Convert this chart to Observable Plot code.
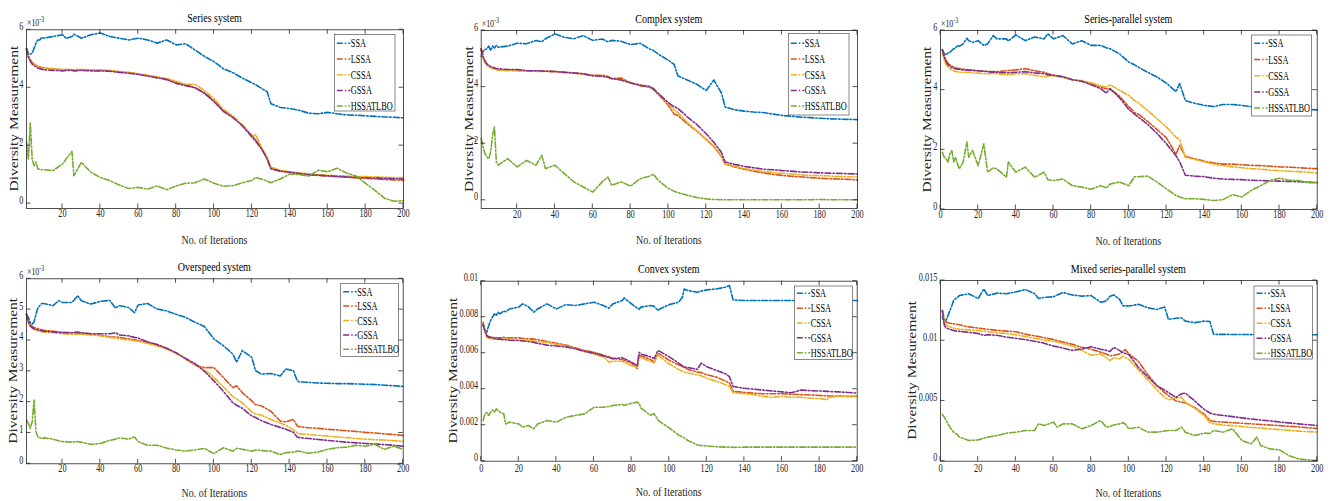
<!DOCTYPE html>
<html><head><meta charset="utf-8">
<script src="https://cdn.jsdelivr.net/npm/d3@7"></script>
<script src="https://cdn.jsdelivr.net/npm/@observablehq/plot@0.6"></script>
<style>
html,body{margin:0;padding:0;background:#fff;}
#root{position:relative;width:1333px;height:501px;overflow:hidden;}
.cell{position:absolute;}
</style></head><body><div id="root"></div>
<script>
// ---------- categories / labels ----------
const seriesNames = ["SSA","LSSA","CSSA","GSSA","HSSATLBO"];
const seriesColors = ["#0072BD","#D95319","#EDB120","#7E2F8E","#77AC30"];
const titles = ["Series system","Complex system","Series-parallel system","Overspeed system","Convex system","Mixed series-parallel system"];
const yLabels = ["Diversity Measurement","Diversity Measurement","Diversity Measurement","Diversity Measurement","Diversity Measurement","Diversity Mesurement"];
const xLabel = "No. of Iterations";
const xTicksFrom20 = [20,40,60,80,100,120,140,160,180,200];
const xTicksFrom0 = [0,20,40,60,80,100,120,140,160,180,200];
const yTicks1 = [0,2,4,6];
const yTicks4 = [0,1,2,3,4,5,6];
const yTicks5 = [0,2,4,6,8,10];
const yTicks6 = [0,5,10,15];

// ---------- values (all in units of 10^-3) ----------
// Panel 1: Series system
const p1Iter = [1,2,3,4,5,6,7,8,9,10,15,20,22,25,26,30,35,40,45,50,55,60,65,70,75,80,85,90,95,100,105,110,115,120,122,125,128,130,135,140,145,150,155,160,165,170,175,180,185,190,195,200];
const p1SSA = [5.36,5.16,5.16,5.19,5.36,5.54,5.65,5.65,5.74,5.71,5.77,5.83,5.7,5.77,5.85,5.71,5.83,5.89,5.77,5.71,5.65,5.71,5.65,5.54,5.65,5.48,5.52,5.3,5.08,4.9,4.65,4.52,4.33,4.17,4.1,3.98,3.86,3.45,3.32,3.28,3.22,3.12,3.1,3.15,3.1,3.06,3.05,3.03,3.01,2.99,2.98,2.96];
const p1LSSA = [5.35,5.1,4.97,4.88,4.82,4.78,4.75,4.72,4.7,4.68,4.66,4.62,4.63,4.62,4.61,4.62,4.6,4.6,4.58,4.55,4.52,4.47,4.42,4.36,4.3,4.18,4.1,4.0,3.82,3.55,3.2,2.98,2.7,2.35,2.2,1.9,1.55,1.22,1.12,1.08,1.03,0.99,0.97,0.95,0.93,0.91,0.89,0.87,0.85,0.83,0.82,0.8];
const p1CSSA = [5.3,5.05,4.93,4.85,4.8,4.76,4.73,4.7,4.68,4.67,4.65,4.63,4.62,4.63,4.62,4.64,4.62,4.62,4.6,4.56,4.53,4.48,4.43,4.38,4.32,4.22,4.12,4.12,3.9,3.62,3.25,3.02,2.72,2.3,2.38,1.95,1.6,1.26,1.15,1.1,1.06,1.03,1.0,0.98,0.96,0.95,0.94,0.93,0.92,0.91,0.9,0.9];
const p1GSSA = [5.35,5.05,4.92,4.82,4.76,4.72,4.68,4.66,4.64,4.62,4.6,4.58,4.6,4.6,4.58,4.6,4.58,4.58,4.57,4.53,4.5,4.46,4.4,4.34,4.28,4.15,4.07,4.0,3.8,3.52,3.18,2.97,2.68,2.3,2.15,1.9,1.55,1.2,1.12,1.08,1.04,1.0,0.98,0.96,0.94,0.92,0.9,0.89,0.88,0.87,0.86,0.85];
const p1HSS = [2.12,1.54,2.8,1.54,1.31,1.43,1.19,1.19,1.17,1.17,1.14,1.37,1.55,1.8,0.96,1.42,1.08,0.9,0.79,0.64,0.52,0.56,0.5,0.61,0.48,0.61,0.7,0.72,0.85,0.7,0.6,0.62,0.72,0.8,0.9,0.85,0.78,0.72,0.85,1.02,1.0,0.95,1.15,1.1,1.22,1.05,0.95,0.7,0.45,0.18,0.08,0.1];

// Panel 2: Complex system
const p2Iter = [1,2,3,4,5,6,7,8,9,10,15,20,25,30,33,35,40,45,50,55,60,65,68,70,75,80,85,90,92,95,100,103,105,110,115,120,124,128,130,135,140,145,150,155,160,165,170,175,180,185,190,195,200];
const p2SSA = [5.09,5.26,5.33,5.35,5.45,5.29,5.45,5.38,5.47,5.41,5.45,5.55,5.53,5.65,5.6,5.71,5.88,5.76,5.71,5.82,5.65,5.7,5.6,5.65,5.62,5.5,5.55,5.35,5.3,5.15,4.95,4.8,4.4,4.25,4.1,3.88,4.25,3.8,3.3,3.2,3.15,3.12,3.1,3.05,3.0,2.97,2.94,2.92,2.9,2.88,2.87,2.86,2.85];
const p2LSSA = [5.35,5.05,4.9,4.8,4.75,4.7,4.67,4.65,4.63,4.6,4.6,4.6,4.58,4.57,4.56,4.56,4.55,4.53,4.5,4.47,4.42,4.42,4.38,4.3,4.32,4.15,4.05,4.0,3.92,3.72,3.35,3.05,3.0,2.7,2.45,2.15,1.9,1.55,1.28,1.18,1.1,1.03,0.97,0.92,0.88,0.85,0.83,0.8,0.78,0.76,0.75,0.74,0.72];
const p2CSSA = [5.3,5.0,4.85,4.77,4.72,4.68,4.65,4.63,4.62,4.6,4.58,4.57,4.56,4.56,4.55,4.55,4.55,4.52,4.49,4.45,4.4,4.38,4.35,4.3,4.25,4.15,4.07,4.02,3.95,3.75,3.4,3.2,3.1,2.75,2.45,2.15,1.92,1.58,1.28,1.2,1.12,1.07,1.02,0.98,0.95,0.93,0.9,0.88,0.87,0.86,0.84,0.83,0.82];
const p2GSSA = [5.35,5.08,4.92,4.82,4.77,4.72,4.7,4.68,4.66,4.65,4.62,4.62,4.58,4.58,4.57,4.56,4.55,4.52,4.5,4.47,4.4,4.38,4.35,4.3,4.25,4.15,4.07,4.02,3.95,3.75,3.45,3.3,3.25,2.95,2.68,2.35,2.05,1.7,1.35,1.27,1.2,1.15,1.1,1.08,1.05,1.03,1.0,0.99,0.97,0.96,0.95,0.94,0.93];
const p2HSS = [2.18,1.88,1.65,1.53,1.47,1.71,2.29,2.59,1.35,1.24,1.47,1.18,1.41,1.24,1.59,1.12,1.24,0.94,0.65,0.47,0.29,0.65,0.82,0.53,0.65,0.5,0.76,0.85,0.92,0.68,0.42,0.32,0.27,0.18,0.1,0.05,0.03,0.02,0.02,0.02,0.02,0.02,0.02,0.02,0.02,0.02,0.02,0.02,0.03,0.02,0.02,0.02,0.02];

// Panel 3: Series-parallel system
const p3Iter = [1,2,3,4,5,6,7,8,9,10,12,14,15,17,20,23,25,28,30,35,36,40,45,50,55,57,60,65,70,75,80,85,88,90,95,100,103,105,110,115,120,125,127,130,135,140,145,150,155,160,165,170,175,180,185,190,195,200];
const p3SSA = [5.36,5.22,5.18,5.25,5.27,5.33,5.39,5.41,5.5,5.47,5.55,5.74,5.66,5.6,5.66,5.5,5.55,5.83,5.72,5.72,5.65,5.85,5.66,5.78,5.72,5.89,5.72,5.83,5.55,5.66,5.5,5.5,5.42,5.39,5.22,4.94,4.85,4.77,4.6,4.44,4.23,3.95,4.22,3.65,3.56,3.49,3.45,3.52,3.52,3.49,3.45,3.43,3.42,3.4,3.39,3.37,3.35,3.34];
const p3LSSA = [5.35,5.15,5.0,4.9,4.85,4.8,4.78,4.75,4.73,4.72,4.7,4.69,4.68,4.67,4.65,4.64,4.63,4.62,4.62,4.65,4.66,4.68,4.72,4.65,4.6,4.55,4.5,4.45,4.35,4.3,4.2,4.1,4.05,4.05,3.8,3.45,3.25,3.2,2.95,2.68,2.4,1.85,2.15,1.78,1.7,1.62,1.56,1.52,1.52,1.5,1.48,1.47,1.45,1.43,1.42,1.4,1.38,1.37];
const p3CSSA = [5.3,5.0,4.85,4.78,4.72,4.68,4.65,4.63,4.62,4.6,4.6,4.6,4.6,4.58,4.57,4.55,4.55,4.56,4.55,4.52,4.52,4.55,4.55,4.5,4.45,4.48,4.48,4.43,4.35,4.32,4.25,4.15,4.1,4.18,4.0,3.82,3.65,3.58,3.32,3.04,2.76,2.42,2.35,1.75,1.68,1.6,1.52,1.47,1.43,1.4,1.37,1.35,1.32,1.3,1.28,1.27,1.25,1.22];
const p3GSSA = [5.35,5.1,4.95,4.85,4.8,4.76,4.73,4.72,4.7,4.7,4.68,4.67,4.67,4.66,4.65,4.63,4.62,4.6,4.6,4.58,4.58,4.6,4.62,4.58,4.55,4.52,4.5,4.45,4.35,4.3,4.18,4.05,3.9,4.05,3.75,3.35,3.2,3.1,2.85,2.55,2.2,1.8,1.6,1.15,1.12,1.1,1.05,1.02,1.01,1.0,0.98,0.97,0.96,0.95,0.94,0.93,0.92,0.9];
const p3HSS = [1.92,1.75,1.7,1.59,1.87,1.98,1.59,1.75,1.53,1.36,1.59,2.26,1.75,1.98,1.47,2.2,1.25,1.4,1.36,1.08,1.59,1.25,1.42,1.08,1.25,1.0,0.97,1.02,0.8,0.75,0.68,0.8,0.72,0.85,0.92,0.8,1.1,1.1,1.12,0.92,0.69,0.47,0.42,0.36,0.36,0.34,0.3,0.33,0.5,0.42,0.64,0.8,0.97,1.05,0.98,0.97,0.9,0.9];

// Panel 4: Overspeed system
const p4Iter = [1,2,3,4,5,6,7,8,9,10,15,18,20,25,28,30,35,40,45,48,50,55,58,60,65,70,75,80,85,90,95,100,105,110,112,115,120,122,125,130,135,138,142,144,145,150,155,160,165,170,175,180,185,190,195,200];
const p4SSA = [4.85,4.74,4.58,4.53,4.6,4.85,5.05,5.13,5.2,5.2,5.13,5.29,5.23,5.23,5.45,5.29,5.18,5.27,5.3,5.05,5.13,5.07,4.9,5.15,5.2,5.02,4.96,4.85,4.75,4.59,4.45,4.05,3.83,3.56,3.3,3.67,3.45,3.02,2.91,2.93,2.85,3.07,3.02,2.69,2.66,2.64,2.62,2.61,2.6,2.6,2.59,2.58,2.57,2.55,2.53,2.51];
const p4LSSA = [4.85,4.6,4.5,4.45,4.42,4.4,4.38,4.36,4.35,4.33,4.3,4.28,4.27,4.25,4.24,4.23,4.2,4.17,4.12,4.11,4.1,4.05,4.02,4.0,3.95,3.85,3.75,3.6,3.4,3.2,3.12,3.12,2.8,2.47,2.53,2.31,2.04,1.92,1.88,1.71,1.39,1.36,1.44,1.23,1.2,1.17,1.15,1.12,1.1,1.07,1.05,1.02,1.0,0.97,0.95,0.92];
const p4CSSA = [4.8,4.55,4.45,4.4,4.36,4.33,4.3,4.3,4.28,4.27,4.25,4.23,4.22,4.2,4.2,4.2,4.18,4.15,4.1,4.08,4.05,4.02,3.99,3.97,3.9,3.82,3.72,3.58,3.42,3.22,3.05,2.8,2.5,2.18,2.1,1.98,1.68,1.62,1.58,1.44,1.32,1.25,1.1,1.0,0.97,0.95,0.92,0.9,0.87,0.85,0.82,0.8,0.78,0.77,0.75,0.73];
const p4GSSA = [4.85,4.6,4.48,4.42,4.38,4.36,4.35,4.33,4.32,4.3,4.28,4.26,4.25,4.25,4.27,4.25,4.22,4.22,4.22,4.25,4.18,4.15,4.1,4.08,3.95,3.87,3.75,3.6,3.42,3.25,3.0,2.69,2.35,1.98,1.9,1.8,1.55,1.5,1.4,1.28,1.18,1.12,1.02,0.87,0.85,0.82,0.79,0.76,0.73,0.7,0.68,0.66,0.64,0.62,0.6,0.57];
const p4HSS = [1.42,1.31,1.15,1.36,2.07,1.04,0.87,0.85,0.82,0.84,0.8,0.75,0.72,0.7,0.72,0.7,0.63,0.66,0.76,0.8,0.84,0.8,0.87,0.72,0.6,0.6,0.51,0.45,0.41,0.45,0.5,0.33,0.52,0.41,0.5,0.47,0.41,0.45,0.43,0.41,0.3,0.36,0.38,0.41,0.41,0.34,0.38,0.47,0.52,0.54,0.6,0.57,0.63,0.47,0.57,0.47];

// Panel 5: Convex system
const p5Iter = [1,2,3,4,5,6,7,8,9,10,12,13,15,20,22,25,28,30,35,40,45,50,55,60,65,68,70,75,76,80,83,84,85,90,92,94,95,100,105,107,108,110,115,117,120,125,130,132,134,140,145,150,155,160,165,170,175,180,184,185,190,195,200];
const p5SSA = [7.54,7.26,7.17,7.54,7.81,8.0,8.19,8.09,8.28,8.19,8.35,8.3,8.46,8.56,8.74,8.59,8.28,8.46,8.74,8.46,8.7,8.65,8.74,8.83,8.65,8.5,8.74,8.93,9.07,8.74,8.5,8.45,8.56,8.65,8.6,8.37,8.46,8.7,8.83,9.11,9.57,9.48,9.39,9.45,9.52,9.57,9.67,9.76,8.96,8.93,8.93,8.93,8.93,8.93,8.93,8.93,8.93,8.93,8.93,8.93,8.93,8.93,8.93];
const p5LSSA = [7.72,7.26,6.98,6.92,6.9,6.88,6.87,6.86,6.85,6.85,6.88,6.85,6.85,6.85,6.82,6.8,6.78,6.75,6.65,6.55,6.45,6.3,6.15,6.05,5.9,5.8,5.7,5.65,5.6,5.45,5.15,5.9,5.85,5.65,5.5,5.95,5.95,5.6,5.35,5.25,5.2,5.1,4.95,4.92,4.8,4.68,4.45,4.35,3.88,3.82,3.78,3.75,3.75,3.75,3.72,3.7,3.68,3.65,3.63,3.62,3.62,3.6,3.6];
const p5CSSA = [7.6,7.2,6.9,6.82,6.8,6.78,6.77,6.78,6.78,6.78,6.8,6.78,6.8,6.72,6.72,6.7,6.68,6.65,6.6,6.5,6.4,6.25,6.1,5.95,5.8,5.5,5.55,5.55,5.5,5.3,5.25,5.8,5.75,5.55,5.45,5.95,5.8,5.4,5.1,5.0,4.95,4.9,4.8,4.75,4.6,4.45,4.25,4.15,3.8,3.75,3.7,3.6,3.55,3.6,3.55,3.55,3.5,3.48,3.42,3.55,3.6,3.6,3.62];
const p5GSSA = [7.6,7.25,6.95,6.9,6.88,6.85,6.82,6.8,6.78,6.78,6.75,6.75,6.72,6.7,6.68,6.65,6.6,6.55,6.45,6.4,6.35,6.25,6.1,6.0,5.85,5.75,5.7,5.75,5.7,5.5,5.3,6.05,5.95,5.8,5.7,6.15,6.1,5.8,5.45,5.3,5.25,5.2,5.1,5.45,5.25,5.05,4.85,4.7,4.15,4.05,4.0,3.95,3.9,3.85,3.8,3.95,3.92,3.9,3.88,3.87,3.85,3.82,3.78];
const p5HSS = [2.26,2.63,2.72,2.54,2.72,2.85,2.72,2.91,2.81,2.72,2.63,2.07,2.17,2.07,1.89,1.98,1.8,2.07,2.26,2.17,2.44,2.54,2.63,3.0,3.0,3.04,3.09,3.15,3.1,3.22,3.28,3.2,2.95,2.55,2.63,2.3,2.2,1.85,1.45,1.35,1.3,1.15,0.9,0.87,0.85,0.8,0.78,0.78,0.77,0.78,0.78,0.78,0.78,0.78,0.78,0.78,0.78,0.78,0.78,0.78,0.78,0.78,0.78];

// Panel 6: Mixed series-parallel system
const p6Iter = [1,2,3,4,5,6,7,8,9,10,15,20,23,25,30,35,40,45,50,52,55,60,62,65,70,75,80,85,88,90,92,95,97,98,100,105,110,115,119,121,125,128,130,135,140,143,145,150,155,160,165,168,170,175,180,185,190,195,200];
const p6SSA = [11.97,11.55,11.7,12.1,12.5,12.9,13.35,13.5,13.6,13.75,13.9,13.5,14.3,13.75,13.95,13.9,14.05,14.25,13.9,13.5,13.6,13.65,13.8,14.0,13.8,13.7,13.75,13.2,13.3,13.7,13.8,13.45,12.88,12.9,12.88,13.02,12.74,12.6,12.8,11.77,11.86,11.9,11.63,11.5,11.63,11.6,10.53,10.53,10.52,10.52,10.51,10.51,10.51,10.5,10.5,10.5,10.5,10.5,10.5];
const p6LSSA = [12.5,11.8,11.55,11.5,11.45,11.42,11.4,11.38,11.35,11.32,11.15,11.05,11.0,10.95,10.86,10.8,10.75,10.55,10.4,10.35,10.25,10.1,10.0,9.9,9.7,9.45,9.3,9.05,8.9,8.75,8.8,8.9,9.1,9.28,8.9,8.3,7.2,6.25,5.7,5.45,5.0,4.9,4.85,4.45,3.9,3.4,3.3,3.25,3.2,3.15,3.1,3.07,3.05,3.0,2.95,2.9,2.85,2.78,2.72];
const p6CSSA = [12.5,11.6,11.3,11.2,11.15,11.1,11.05,11.0,10.98,10.95,10.9,10.85,10.8,10.75,10.65,10.6,10.5,10.35,10.2,10.15,10.05,9.95,9.9,9.75,9.55,9.2,8.8,8.9,8.6,8.35,8.6,8.5,8.73,8.6,8.45,7.6,6.75,5.9,5.3,5.1,5.25,5.3,4.9,4.4,3.8,3.2,3.1,3.0,2.95,2.88,2.8,2.77,2.75,2.68,2.62,2.56,2.5,2.45,2.42];
const p6GSSA = [12.5,11.3,11.05,11.0,10.95,10.9,10.85,10.8,10.8,10.78,10.7,10.6,10.45,10.5,10.45,10.3,10.2,10.1,9.95,9.9,9.8,9.55,9.5,9.4,9.2,9.3,9.5,9.3,9.2,9.1,9.45,9.2,9.0,8.95,8.85,7.8,7.0,6.25,5.9,5.7,5.3,5.6,5.65,5.0,4.3,4.0,3.9,3.8,3.7,3.6,3.5,3.45,3.42,3.35,3.25,3.18,3.1,3.03,2.96];
const p6HSS = [3.88,3.66,3.38,3.1,2.83,2.6,2.41,2.3,2.2,2.0,1.72,1.77,1.9,2.0,2.13,2.33,2.41,2.55,2.55,3.1,2.96,3.24,2.83,3.1,3.1,2.69,2.96,3.38,2.83,2.88,3.0,3.1,3.2,3.1,2.69,2.83,2.41,2.41,2.5,2.55,2.55,2.83,2.41,2.13,2.33,2.3,2.55,2.41,2.69,1.72,1.44,2.0,1.3,1.02,0.94,0.47,0.19,0.11,0.05];

// ---------- layout (page pixel positions) ----------
const INK = "#262626";
const FONT = '"Liberation Serif","Times New Roman",Times,serif';
const DASH = "6,2,1.5,2";
const fmtInt = d => String(d);
const fmtMilli = d => d === 0 ? "0" : String(+(d / 1000).toFixed(3));

const panels = [
  {iter:p1Iter, values:[p1SSA,p1LSSA,p1CSSA,p1GSSA,p1HSS], xDomain:[1,200], xTicks:xTicksFrom20, yDomain:[-0.17,6], yTicks:yTicks1, fmt:fmtInt, exp:true,
   cell:{left:0,top:0,width:444,height:250}, frame:{left:26,right:403,top:29.3,bottom:208}, xPad:8.8, xLabDy:36.3, yLabX:18.3,
   legend:{left:334.3,top:34.3,width:60.7,height:76.7,first:9,gap:15.7}},
  {iter:p2Iter, values:[p2SSA,p2LSSA,p2CSSA,p2GSSA,p2HSS], xDomain:[1,200], xTicks:xTicksFrom20, yDomain:[-0.29,6], yTicks:yTicks1, fmt:fmtInt, exp:true,
   cell:{left:444,top:0,width:444,height:250}, frame:{left:480.7,right:857,top:30,bottom:208}, xPad:9.5, xLabDy:36.3, yLabX:473.3,
   legend:{left:788.3,top:33.3,width:60.7,height:81.7,first:10,gap:15.7}},
  {iter:p3Iter, values:[p3SSA,p3LSSA,p3CSSA,p3GSSA,p3HSS], xDomain:[0,200], xTicks:xTicksFrom0, yDomain:[0,6], yTicks:yTicks1, fmt:fmtInt, exp:true,
   cell:{left:888,top:0,width:445,height:250}, frame:{left:940,right:1316.7,top:30,bottom:209}, xPad:8.8, xLabDy:36, yLabX:931,
   legend:{left:1251.7,top:35,width:60,height:81,first:8.3,gap:16.2}},
  {iter:p4Iter, values:[p4SSA,p4LSSA,p4CSSA,p4GSSA,p4HSS], xDomain:[1,200], xTicks:xTicksFrom20, yDomain:[0,6], yTicks:yTicks4, fmt:fmtInt, exp:true,
   cell:{left:0,top:250,width:444,height:251}, frame:{left:26,right:402.7,top:278.3,bottom:463.3}, xPad:8.5, xLabDy:33.4, yLabX:17.3,
   legend:{left:340.7,top:283.3,width:57.6,height:73,first:8.4,gap:14.4}},
  {iter:p5Iter, values:[p5SSA,p5LSSA,p5CSSA,p5GSSA,p5HSS], xDomain:[0,200], xTicks:xTicksFrom0, yDomain:[0,10], yTicks:yTicks5, fmt:fmtMilli, exp:false,
   cell:{left:444,top:250,width:444,height:251}, frame:{left:480.7,right:856.7,top:280.7,bottom:460.7}, xPad:10.4, xLabDy:35.3, yLabX:456.7,
   legend:{left:794.3,top:286,width:58,height:73.3,first:7.3,gap:14.85}},
  {iter:p6Iter, values:[p6SSA,p6LSSA,p6CSSA,p6GSSA,p6HSS], xDomain:[0,200], xTicks:xTicksFrom0, yDomain:[0,15], yTicks:yTicks6, fmt:fmtMilli, exp:false,
   cell:{left:888,top:250,width:445,height:251}, frame:{left:940,right:1316.7,top:280,bottom:460.7}, xPad:11, xLabDy:36.3, yLabX:916,
   legend:{left:1254,top:286,width:58.3,height:73,first:7.3,gap:15}}
];

function squeeze(t, k) {
  const x = +t.getAttribute("x") || 0, y = +t.getAttribute("y") || 0;
  const tr = t.getAttribute("transform") || "";
  t.removeAttribute("x"); t.removeAttribute("y");
  t.setAttribute("transform", `${tr} translate(${x},${y}) scale(${k},1)`);
}

const root = document.getElementById("root");
panels.forEach((p, idx) => {
  p.values.forEach((v, k) => { if (v.length !== p.iter.length) throw new Error(`panel ${idx+1} ${seriesNames[k]} length ${v.length} vs ${p.iter.length}`); });
  const C = p.cell, F = p.frame;
  const ml = F.left - C.left, mr = C.left + C.width - F.right, mt = F.top - C.top, mb = C.top + C.height - F.bottom;
  const rows = seriesNames.flatMap((s, k) => p.iter.map((it, i) => ({it, v: p.values[k][i], s})));
  const chart = Plot.plot({
    width: C.width, height: C.height,
    marginLeft: ml, marginRight: mr, marginTop: mt, marginBottom: mb,
    style: {fontFamily: FONT, fontSize: "11.5px", color: INK, background: "transparent", overflow: "visible"},
    x: {domain: p.xDomain},
    y: {domain: p.yDomain},
    color: {domain: seriesNames, range: seriesColors},
    marks: [
      Plot.line(rows, {x: "it", y: "v", z: "s", stroke: "s", strokeWidth: 1.6, strokeDasharray: DASH, strokeLinejoin: "round"}),
      Plot.frame({stroke: INK, strokeWidth: 0.8}),
      Plot.axisX({ticks: p.xTicks, tickSize: 0, tickPadding: p.xPad, label: null, tickFormat: fmtInt}),
      Plot.axisY({ticks: p.yTicks, tickSize: 0, tickPadding: 3, label: null, tickFormat: p.fmt})
    ]
  });
  const div = document.createElement("div");
  div.className = "cell";
  div.style.left = C.left + "px"; div.style.top = C.top + "px";
  div.appendChild(chart);
  root.appendChild(div);

  const svg = d3.select(chart);
  svg.selectAll('g[aria-label="x-axis tick label"] text, g[aria-label="y-axis tick label"] text').each(function() { squeeze(this, 0.72); });
  const sx = chart.scale("x"), sy = chart.scale("y");
  const x0 = ml, x1 = C.width - mr, y0 = mt, y1 = C.height - mb;
  const TL = 4.5;
  const tk = svg.append("g").attr("stroke", INK).attr("stroke-width", 0.8);
  p.xTicks.forEach(t => {
    const X = sx.apply(t);
    tk.append("line").attr("x1", X).attr("x2", X).attr("y1", y1).attr("y2", y1 - TL);
    tk.append("line").attr("x1", X).attr("x2", X).attr("y1", y0).attr("y2", y0 + TL);
  });
  p.yTicks.forEach(t => {
    const Y = sy.apply(t);
    tk.append("line").attr("x1", x0).attr("x2", x0 + TL).attr("y1", Y).attr("y2", Y);
    tk.append("line").attr("x1", x1).attr("x2", x1 - TL).attr("y1", Y).attr("y2", Y);
  });

  const txt = (anchor) => svg.append("text").attr("font-family", FONT).attr("text-anchor", anchor);
  // title
  txt("middle").attr("transform", `translate(${(x0 + x1) / 2},${y0 - 7.3}) scale(0.77,1)`)
    .attr("font-size", 13).attr("fill", "#000").text(titles[idx]);
  // x label
  txt("middle").attr("transform", `translate(${(x0 + x1) / 2},${y1 + p.xLabDy}) scale(0.77,1)`)
    .attr("font-size", 13).attr("fill", INK).text(xLabel);
  // y label
  txt("middle").attr("transform", `translate(${p.yLabX - C.left},${(y0 + y1) / 2}) scale(0.85,1) rotate(-90)`)
    .attr("font-size", 15.5).attr("fill", INK).text(yLabels[idx]);
  // exponent
  if (p.exp) {
    const e = txt("start").attr("transform", `translate(${x0 + 1},${y0 - 3}) scale(0.75,1)`).attr("font-size", 10.5).attr("fill", INK);
    e.append("tspan").text("\u00d710");
    e.append("tspan").attr("dy", -4.5).attr("font-size", 8).text("-3");
  }
  // legend
  const L = p.legend;
  const lx = L.left - C.left, ly = L.top - C.top;
  const lg = svg.append("g");
  lg.append("rect").attr("x", lx).attr("y", ly).attr("width", L.width).attr("height", L.height)
    .attr("fill", "#fff").attr("stroke", "#3a3a3a").attr("stroke-width", 0.6);
  seriesNames.forEach((s, k) => {
    const cy = ly + L.first + k * L.gap;
    lg.append("line").attr("x1", lx + 2.5).attr("x2", lx + 16).attr("y1", cy).attr("y2", cy)
      .attr("stroke", seriesColors[k]).attr("stroke-width", 1.5).attr("stroke-dasharray", DASH);
    lg.append("text").attr("font-family", FONT).attr("font-size", 12).attr("fill", "#000").attr("text-anchor", "start")
      .attr("transform", `translate(${lx + 16.5},${cy + 4}) scale(0.69,1)`).text(s);
  });
});
</script>
</body></html>
